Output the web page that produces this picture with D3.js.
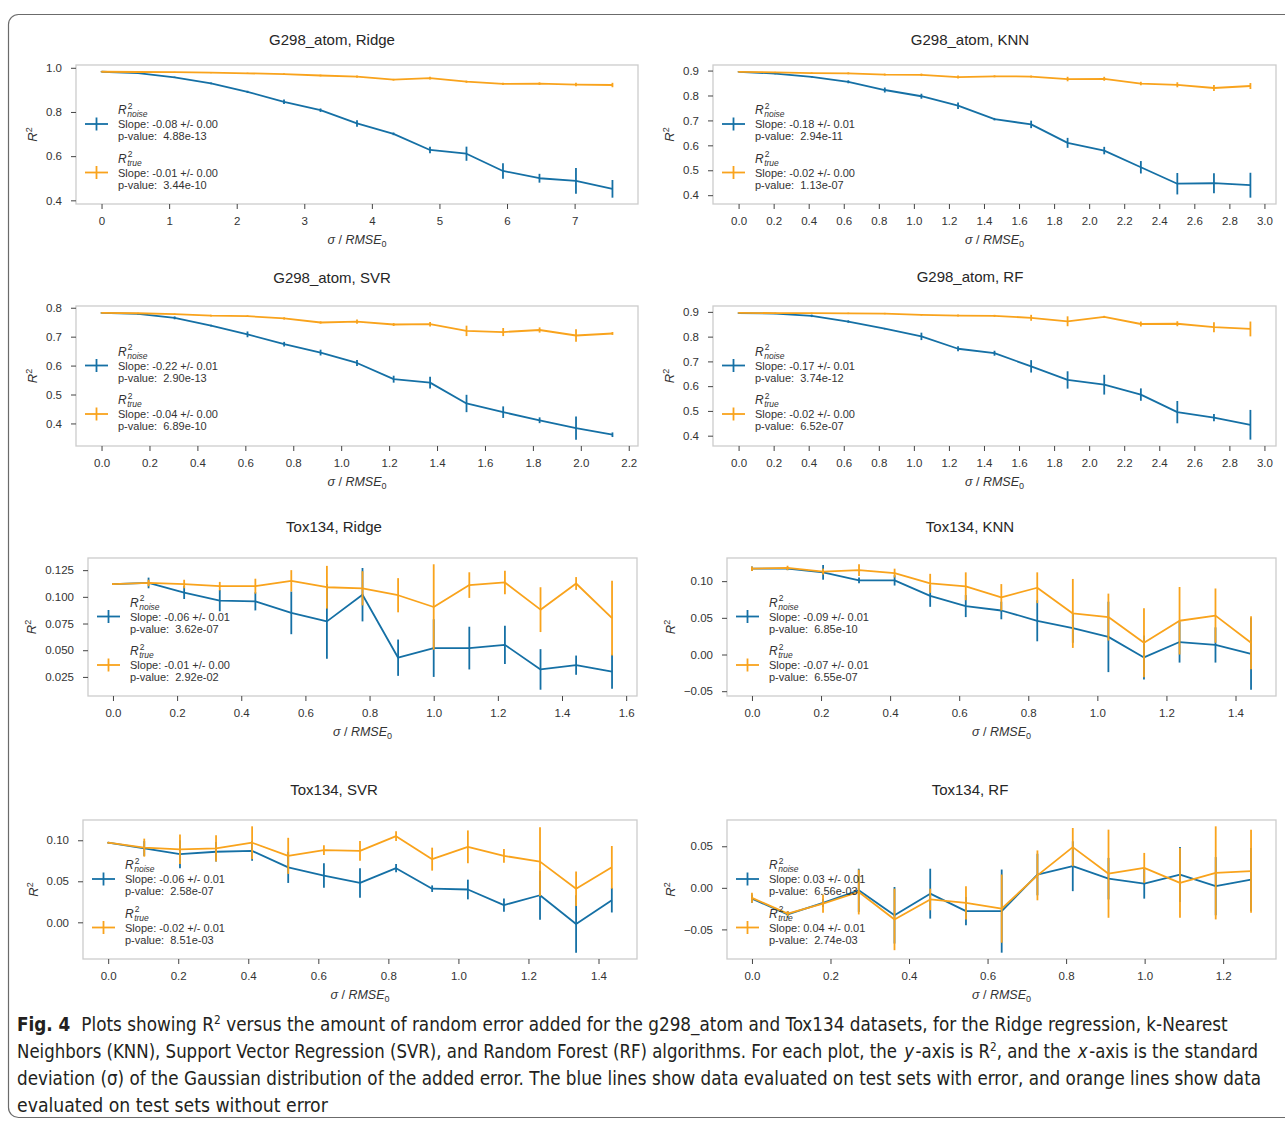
<!DOCTYPE html>
<html>
<head>
<meta charset="utf-8">
<script src="https://cdn.jsdelivr.net/npm/d3@7"></script>
<style>
  body { margin: 0; background: #fff; }
  svg { display: block; }
  text { white-space: pre; }
</style>
</head>
<body>
<div id="chart"></div>
<script>
// ---- data: sigma / RMSE0 and R^2 (+/- error) ----

// G298_atom, Ridge
const gRidgeX = [0, 0.54, 1.08, 1.62, 2.16, 2.70, 3.24, 3.78, 4.32, 4.86, 5.40, 5.94, 6.48, 7.02, 7.56];
const gRidgeNoise = [0.982, 0.976, 0.957, 0.929, 0.891, 0.846, 0.808, 0.748, 0.701, 0.628, 0.611, 0.533, 0.500, 0.488, 0.452];
const gRidgeNoiseErr = [0.002, 0.002, 0.003, 0.004, 0.005, 0.010, 0.008, 0.015, 0.006, 0.015, 0.032, 0.035, 0.020, 0.058, 0.040];
const gRidgeTrue = [0.982, 0.981, 0.980, 0.978, 0.975, 0.971, 0.965, 0.960, 0.946, 0.953, 0.937, 0.927, 0.928, 0.924, 0.922];
const gRidgeTrueErr = [0.002, 0.002, 0.002, 0.003, 0.003, 0.004, 0.004, 0.005, 0.004, 0.006, 0.005, 0.005, 0.006, 0.008, 0.010];

// G298_atom, KNN
const gKnnX = [0, 0.209, 0.417, 0.626, 0.834, 1.043, 1.252, 1.460, 1.669, 1.877, 2.086, 2.295, 2.503, 2.712, 2.920];
const gKnnNoise = [0.895, 0.888, 0.875, 0.855, 0.822, 0.797, 0.759, 0.705, 0.684, 0.610, 0.579, 0.512, 0.446, 0.448, 0.440];
const gKnnNoiseErr = [0.002, 0.003, 0.003, 0.006, 0.010, 0.010, 0.013, 0.005, 0.015, 0.020, 0.015, 0.025, 0.043, 0.040, 0.050];
const gKnnTrue = [0.895, 0.893, 0.890, 0.889, 0.884, 0.883, 0.874, 0.877, 0.876, 0.866, 0.867, 0.848, 0.843, 0.830, 0.838];
const gKnnTrueErr = [0.002, 0.002, 0.003, 0.004, 0.004, 0.005, 0.006, 0.004, 0.004, 0.009, 0.008, 0.007, 0.010, 0.012, 0.012];

// G298_atom, SVR
const gSvrX = [0, 0.152, 0.305, 0.457, 0.609, 0.762, 0.914, 1.066, 1.219, 1.371, 1.523, 1.676, 1.828, 1.980, 2.132];
const gSvrNoise = [0.782, 0.779, 0.765, 0.738, 0.708, 0.674, 0.645, 0.609, 0.553, 0.541, 0.469, 0.439, 0.411, 0.384, 0.361];
const gSvrNoiseErr = [0.002, 0.002, 0.005, 0.003, 0.010, 0.008, 0.010, 0.010, 0.012, 0.020, 0.030, 0.020, 0.010, 0.040, 0.008];
const gSvrTrue = [0.782, 0.781, 0.778, 0.773, 0.771, 0.763, 0.749, 0.752, 0.742, 0.743, 0.720, 0.716, 0.723, 0.704, 0.711];
const gSvrTrueErr = [0.002, 0.002, 0.002, 0.003, 0.003, 0.004, 0.004, 0.007, 0.005, 0.008, 0.018, 0.014, 0.009, 0.022, 0.005];

// G298_atom, RF
const gRfX = [0, 0.209, 0.417, 0.626, 0.834, 1.043, 1.252, 1.460, 1.669, 1.877, 2.086, 2.295, 2.503, 2.712, 2.920];
const gRfNoise = [0.895, 0.893, 0.884, 0.861, 0.832, 0.801, 0.751, 0.733, 0.680, 0.625, 0.606, 0.566, 0.495, 0.473, 0.444];
const gRfNoiseErr = [0.002, 0.002, 0.005, 0.005, 0.003, 0.015, 0.010, 0.010, 0.025, 0.035, 0.040, 0.025, 0.045, 0.015, 0.060];
const gRfTrue = [0.896, 0.895, 0.895, 0.894, 0.893, 0.888, 0.885, 0.884, 0.876, 0.862, 0.880, 0.851, 0.852, 0.838, 0.831];
const gRfTrueErr = [0.002, 0.002, 0.002, 0.003, 0.003, 0.003, 0.004, 0.004, 0.012, 0.020, 0.004, 0.010, 0.010, 0.020, 0.030];

// Tox134, Ridge
const tRidgeX = [0, 0.111, 0.222, 0.333, 0.444, 0.556, 0.667, 0.778, 0.889, 1.000, 1.111, 1.222, 1.333, 1.444, 1.556];
const tRidgeNoise = [0.112, 0.113, 0.104, 0.0965, 0.0958, 0.085, 0.077, 0.102, 0.043, 0.052, 0.052, 0.055, 0.032, 0.036, 0.030];
const tRidgeNoiseErr = [0.001, 0.005, 0.006, 0.010, 0.0085, 0.020, 0.035, 0.025, 0.017, 0.027, 0.020, 0.018, 0.019, 0.009, 0.016];
const tRidgeTrue = [0.112, 0.113, 0.112, 0.110, 0.110, 0.115, 0.109, 0.108, 0.1015, 0.0905, 0.111, 0.1135, 0.088, 0.1125, 0.080];
const tRidgeTrueErr = [0.001, 0.003, 0.004, 0.004, 0.007, 0.010, 0.020, 0.016, 0.016, 0.040, 0.012, 0.011, 0.021, 0.006, 0.035];

// Tox134, KNN
const tKnnX = [0, 0.103, 0.206, 0.310, 0.413, 0.516, 0.619, 0.722, 0.826, 0.929, 1.032, 1.135, 1.238, 1.342, 1.445];
const tKnnNoise = [0.117, 0.117, 0.112, 0.101, 0.101, 0.080, 0.066, 0.060, 0.046, 0.036, 0.024, -0.004, 0.017, 0.013, 0.001];
const tKnnNoiseErr = [0.003, 0.002, 0.010, 0.004, 0.007, 0.015, 0.015, 0.012, 0.028, 0.020, 0.048, 0.030, 0.028, 0.024, 0.049];
const tKnnTrue = [0.117, 0.118, 0.113, 0.115, 0.111, 0.097, 0.093, 0.078, 0.091, 0.056, 0.051, 0.016, 0.046, 0.053, 0.016];
const tKnnTrueErr = [0.003, 0.003, 0.004, 0.008, 0.006, 0.013, 0.019, 0.018, 0.021, 0.047, 0.032, 0.047, 0.046, 0.037, 0.036];

// Tox134, SVR
const tSvrX = [0, 0.103, 0.205, 0.308, 0.411, 0.514, 0.616, 0.719, 0.822, 0.925, 1.027, 1.130, 1.233, 1.336, 1.438];
const tSvrNoise = [0.097, 0.090, 0.083, 0.086, 0.087, 0.067, 0.057, 0.048, 0.066, 0.041, 0.040, 0.021, 0.033, -0.002, 0.027];
const tSvrNoiseErr = [0.001, 0.009, 0.017, 0.012, 0.012, 0.019, 0.015, 0.018, 0.005, 0.004, 0.012, 0.008, 0.030, 0.035, 0.015];
const tSvrTrue = [0.097, 0.091, 0.089, 0.090, 0.097, 0.081, 0.088, 0.087, 0.105, 0.077, 0.092, 0.081, 0.074, 0.041, 0.067];
const tSvrTrueErr = [0.001, 0.011, 0.018, 0.016, 0.020, 0.022, 0.006, 0.012, 0.006, 0.014, 0.020, 0.0085, 0.042, 0.021, 0.026];

// Tox134, RF
const tRfX = [0, 0.091, 0.181, 0.272, 0.363, 0.454, 0.545, 0.636, 0.727, 0.817, 0.908, 0.999, 1.090, 1.181, 1.271];
const tRfNoise = [-0.013, -0.032, -0.018, -0.003, -0.033, -0.007, -0.028, -0.028, 0.016, 0.026, 0.011, 0.005, 0.016, 0.002, 0.010];
const tRfNoiseErr = [0.005, 0.004, 0.005, 0.026, 0.034, 0.030, 0.017, 0.050, 0.025, 0.030, 0.025, 0.018, 0.033, 0.035, 0.038];
const tRfTrue = [-0.012, -0.031, -0.019, -0.005, -0.038, -0.014, -0.018, -0.025, 0.015, 0.049, 0.017, 0.024, 0.006, 0.018, 0.020];
const tRfTrueErr = [0.006, 0.003, 0.011, 0.027, 0.037, 0.013, 0.020, 0.041, 0.030, 0.023, 0.053, 0.018, 0.042, 0.056, 0.050];

// titles and legend texts
const titles = ["G298_atom, Ridge", "G298_atom, KNN", "G298_atom, SVR", "G298_atom, RF",
                "Tox134, Ridge", "Tox134, KNN", "Tox134, SVR", "Tox134, RF"];
const noiseSlopes = ["-0.08 +/- 0.00", "-0.18 +/- 0.01", "-0.22 +/- 0.01", "-0.17 +/- 0.01",
                     "-0.06 +/- 0.01", "-0.09 +/- 0.01", "-0.06 +/- 0.01", "0.03 +/- 0.01"];
const noisePvals = ["4.88e-13", "2.94e-11", "2.90e-13", "3.74e-12", "3.62e-07", "6.85e-10", "2.58e-07", "6.56e-03"];
const trueSlopes = ["-0.01 +/- 0.00", "-0.02 +/- 0.00", "-0.04 +/- 0.00", "-0.02 +/- 0.00",
                    "-0.01 +/- 0.00", "-0.07 +/- 0.01", "-0.02 +/- 0.01", "0.04 +/- 0.01"];
const truePvals = ["3.44e-10", "1.13e-07", "6.89e-10", "6.52e-07", "2.92e-02", "6.55e-07", "8.51e-03", "2.74e-03"];

// tick values
const xTicksRidge = [0, 1, 2, 3, 4, 5, 6, 7];
const xTicks30 = [0, 0.2, 0.4, 0.6, 0.8, 1.0, 1.2, 1.4, 1.6, 1.8, 2.0, 2.2, 2.4, 2.6, 2.8, 3.0];
const xTicks22 = [0, 0.2, 0.4, 0.6, 0.8, 1.0, 1.2, 1.4, 1.6, 1.8, 2.0, 2.2];
const xTicks16 = [0, 0.2, 0.4, 0.6, 0.8, 1.0, 1.2, 1.4, 1.6];
const xTicks14 = [0, 0.2, 0.4, 0.6, 0.8, 1.0, 1.2, 1.4];
const xTicks12 = [0, 0.2, 0.4, 0.6, 0.8, 1.0, 1.2];
const yTicksRidge = [0.4, 0.6, 0.8, 1.0];
const yTicks09 = [0.4, 0.5, 0.6, 0.7, 0.8, 0.9];
const yTicks08 = [0.4, 0.5, 0.6, 0.7, 0.8];
const yTicksTRidge = [0.025, 0.050, 0.075, 0.100, 0.125];
const yTicksTKnn = [-0.05, 0, 0.05, 0.10];
const yTicksTSvr = [0, 0.05, 0.10];
const yTicksTRf = [-0.05, 0, 0.05];

// caption runs; "sp" marks a word gap that is kept out of the run itself
const captionLines = [
  [["Fig. 4", "b"], ["sp"], ["sp"], ["Plots showing R"], ["2", "sup"], ["sp"], ["versus the amount of random error added for the g298_atom and Tox134 datasets, for the Ridge regression, k-Nearest"]],
  [["Neighbors (KNN), Support Vector Regression (SVR), and Random Forest (RF) algorithms. For each plot, the"], ["sp"], ["y", "i"], ["-axis is R"], ["2", "sup"], [", and the"], ["sp"], ["x", "i"], ["-axis is the standard"]],
  [["deviation (σ) of the Gaussian distribution of the added error. The blue lines show data evaluated on test sets with error, and orange lines show data"]],
  [["evaluated on test sets without error"]]
];

// ---- layout ----
const W = 1285, H = 1121;
const BLUE = "#1570a5", ORANGE = "#f9a31c";
const FONT = "'Liberation Sans', Arial, Helvetica, sans-serif";

const panels = [
  { x: gRidgeX, n: gRidgeNoise, ne: gRidgeNoiseErr, t: gRidgeTrue, te: gRidgeTrueErr, xt: xTicksRidge, yt: yTicksRidge, xf: "d", yf: ".1f", box: [76, 65, 638, 204], tx: 332, ty: 45 },
  { x: gKnnX, n: gKnnNoise, ne: gKnnNoiseErr, t: gKnnTrue, te: gKnnTrueErr, xt: xTicks30, yt: yTicks09, xf: ".1f", yf: ".1f", box: [713, 65, 1276, 204], tx: 970, ty: 45 },
  { x: gSvrX, n: gSvrNoise, ne: gSvrNoiseErr, t: gSvrTrue, te: gSvrTrueErr, xt: xTicks22, yt: yTicks08, xf: ".1f", yf: ".1f", box: [76, 306, 638, 446], tx: 332, ty: 283 },
  { x: gRfX, n: gRfNoise, ne: gRfNoiseErr, t: gRfTrue, te: gRfTrueErr, xt: xTicks30, yt: yTicks09, xf: ".1f", yf: ".1f", box: [713, 306, 1276, 446], tx: 970, ty: 282 },
  { x: tRidgeX, n: tRidgeNoise, ne: tRidgeNoiseErr, t: tRidgeTrue, te: tRidgeTrueErr, xt: xTicks16, yt: yTicksTRidge, xf: ".1f", yf: ".3f", box: [88, 558, 637, 696], tx: 334, ty: 532 },
  { x: tKnnX, n: tKnnNoise, ne: tKnnNoiseErr, t: tKnnTrue, te: tKnnTrueErr, xt: xTicks14, yt: yTicksTKnn, xf: ".1f", yf: ".2f", box: [727, 558, 1276, 696], tx: 970, ty: 532 },
  { x: tSvrX, n: tSvrNoise, ne: tSvrNoiseErr, t: tSvrTrue, te: tSvrTrueErr, xt: xTicks14, yt: yTicksTSvr, xf: ".1f", yf: ".2f", box: [83, 820, 637, 959], tx: 334, ty: 795 },
  { x: tRfX, n: tRfNoise, ne: tRfNoiseErr, t: tRfTrue, te: tRfTrueErr, xt: xTicks12, yt: yTicksTRf, xf: ".1f", yf: ".2f", box: [727, 820, 1276, 959], tx: 970, ty: 795 }
];

const svg = d3.select("#chart").append("svg")
  .attr("width", W).attr("height", H)
  .style("font-family", FONT);

// outer figure box
svg.append("rect")
  .attr("x", 8.5).attr("y", 14.5).attr("width", 1300).attr("height", 1103)
  .attr("rx", 10).attr("fill", "none").attr("stroke", "#6b6b6b").attr("stroke-width", 1.2);

// matplotlib style 5% margins
function padded(ext) {
  const d = (ext[1] - ext[0]) * 0.05;
  return [ext[0] - d, ext[1] + d];
}

function drawPanel(p, i) {
  const [l, t, r, b] = p.box;
  const lo = d3.min([...p.n.map((v, k) => v - p.ne[k]), ...p.t.map((v, k) => v - p.te[k])]);
  const hi = d3.max([...p.n.map((v, k) => v + p.ne[k]), ...p.t.map((v, k) => v + p.te[k])]);
  const x = d3.scaleLinear().domain(padded(d3.extent(p.x))).range([l, r]);
  const y = d3.scaleLinear().domain(padded([lo, hi])).range([b, t]);
  const g = svg.append("g");

  // frame
  g.append("rect")
    .attr("x", l).attr("y", t).attr("width", r - l).attr("height", b - t)
    .attr("fill", "none").attr("stroke", "#cccccc").attr("stroke-width", 1.3);

  // axes
  const xAxis = g.append("g").attr("transform", `translate(0,${b})`)
    .call(d3.axisBottom(x).tickValues(p.xt).tickFormat(d3.format(p.xf)).tickSize(5).tickPadding(8));
  const yAxis = g.append("g").attr("transform", `translate(${l},0)`)
    .call(d3.axisLeft(y).tickValues(p.yt).tickFormat(d3.format(p.yf)).tickSize(5).tickPadding(9));
  [xAxis, yAxis].forEach(a => {
    a.select(".domain").remove();
    a.selectAll(".tick line").attr("stroke", "#444").attr("stroke-width", 1);
    a.selectAll(".tick text").attr("fill", "#333").style("font-size", "11.5px").style("font-family", FONT);
  });

  // series: noise (blue) then true (orange)
  const series = [[p.n, p.ne, BLUE], [p.t, p.te, ORANGE]];
  series.forEach(([vals, errs, col]) => {
    const pts = p.x.map((xv, k) => [xv, vals[k], errs[k]]);
    g.append("path")
      .datum(pts)
      .attr("fill", "none").attr("stroke", col).attr("stroke-width", 1.8)
      .attr("stroke-linejoin", "round")
      .attr("d", d3.line().x(d => x(d[0])).y(d => y(d[1])));
    g.append("g").selectAll("line")
      .data(pts).join("line")
      .attr("x1", d => x(d[0])).attr("x2", d => x(d[0]))
      .attr("y1", d => y(d[1] - d[2])).attr("y2", d => y(d[1] + d[2]))
      .attr("stroke", col).attr("stroke-width", 1.8);
  });

  // legend
  const hy1 = (t + b) / 2 - 10.5;
  const entries = [
    [hy1, BLUE, "noise", noiseSlopes[i], noisePvals[i]],
    [hy1 + 48.5, ORANGE, "true", trueSlopes[i], truePvals[i]]
  ];
  entries.forEach(([hy, col, sub, slope, pval]) => {
    const lg = g.append("g");
    lg.append("line").attr("x1", l + 9).attr("x2", l + 32).attr("y1", hy).attr("y2", hy)
      .attr("stroke", col).attr("stroke-width", 1.8);
    lg.append("line").attr("x1", l + 20.5).attr("x2", l + 20.5).attr("y1", hy - 6.5).attr("y2", hy + 6.5)
      .attr("stroke", col).attr("stroke-width", 1.8);
    const tx = l + 42;
    const rT = lg.append("text").attr("x", tx).attr("y", hy - 10)
      .attr("fill", "#333").style("font-size", "12px").style("font-style", "italic").text("R");
    const rw = rT.node().getComputedTextLength();
    lg.append("text").attr("x", tx + rw + 1).attr("y", hy - 15.5)
      .attr("fill", "#333").style("font-size", "8.5px").text("2");
    lg.append("text").attr("x", tx + rw + 0.5).attr("y", hy - 7)
      .attr("fill", "#333").style("font-size", "8.5px").style("font-style", "italic").text(sub);
    lg.append("text").attr("x", tx).attr("y", hy + 4)
      .attr("fill", "#333").style("font-size", "11px").text("Slope: " + slope);
    lg.append("text").attr("x", tx).attr("y", hy + 16)
      .attr("fill", "#333").style("font-size", "11px").text("p-value:  " + pval);
  });

  // title
  g.append("text").attr("x", p.tx).attr("y", p.ty).attr("text-anchor", "middle")
    .attr("fill", "#262626").style("font-size", "15px").text(titles[i]);

  // x label
  const xl = g.append("text").attr("x", (l + r) / 2).attr("y", b + 40).attr("text-anchor", "middle")
    .attr("fill", "#333").style("font-size", "12.5px");
  xl.append("tspan").style("font-style", "italic").text("σ");
  xl.append("tspan").text(" / ");
  xl.append("tspan").style("font-style", "italic").text("RMSE");
  xl.append("tspan").attr("dy", 3).style("font-size", "9px").text("0");

  // y label
  const maxW = d3.max(yAxis.selectAll(".tick text").nodes(), n => n.getComputedTextLength());
  const yx = l - 23 - maxW;
  const yl = g.append("text").attr("transform", `translate(${yx},${(t + b) / 2}) rotate(-90)`)
    .attr("text-anchor", "middle").attr("fill", "#333").style("font-size", "13px");
  yl.append("tspan").style("font-style", "italic").text("R");
  yl.append("tspan").attr("dy", -5).style("font-size", "9px").text("2");
}

panels.forEach(drawPanel);

// caption: each run is its own text element, narrowed with a horizontal scale so the line fits
const CAP_FONT = "'Liberation Sans Narrow', 'DejaVu Sans Condensed', 'Liberation Sans', sans-serif";
const capLen = [1211, 1241, 1245, 311];
const capY = [1031, 1058, 1085, 1112];
const SPACE = 5.5, ITAL = 1.5;
captionLines.forEach((parts, li) => {
  const runs = parts.map(([s, kind]) => {
    if (s === "sp") return [null, 0, "sp"];
    const el = svg.append("text")
      .attr("x", 0).attr("y", 0)
      .attr("fill", "#231f20")
      .style("font-family", CAP_FONT)
      .style("font-size", kind === "sup" ? "12px" : "19px")
      .text(s);
    if (kind === "b") el.style("font-weight", "bold");
    if (kind === "i") el.style("font-style", "italic");
    return [el, el.node().getComputedTextLength(), kind];
  });
  const fixed = d3.sum(runs, d => (d[2] === "sp" ? SPACE : d[2] === "i" ? 2 * ITAL : 0));
  const k = (capLen[li] - fixed) / d3.sum(runs, d => d[1]);
  let cx = 17;
  runs.forEach(([el, w, kind]) => {
    if (!el) { cx += SPACE; return; }
    if (kind === "i") cx += ITAL;
    const yy = kind === "sup" ? capY[li] - 7 : capY[li];
    el.attr("transform", `translate(${cx},${yy}) scale(${k},1)`);
    cx += w * k + (kind === "i" ? ITAL : 0);
  });
});
</script>
</body>
</html>
